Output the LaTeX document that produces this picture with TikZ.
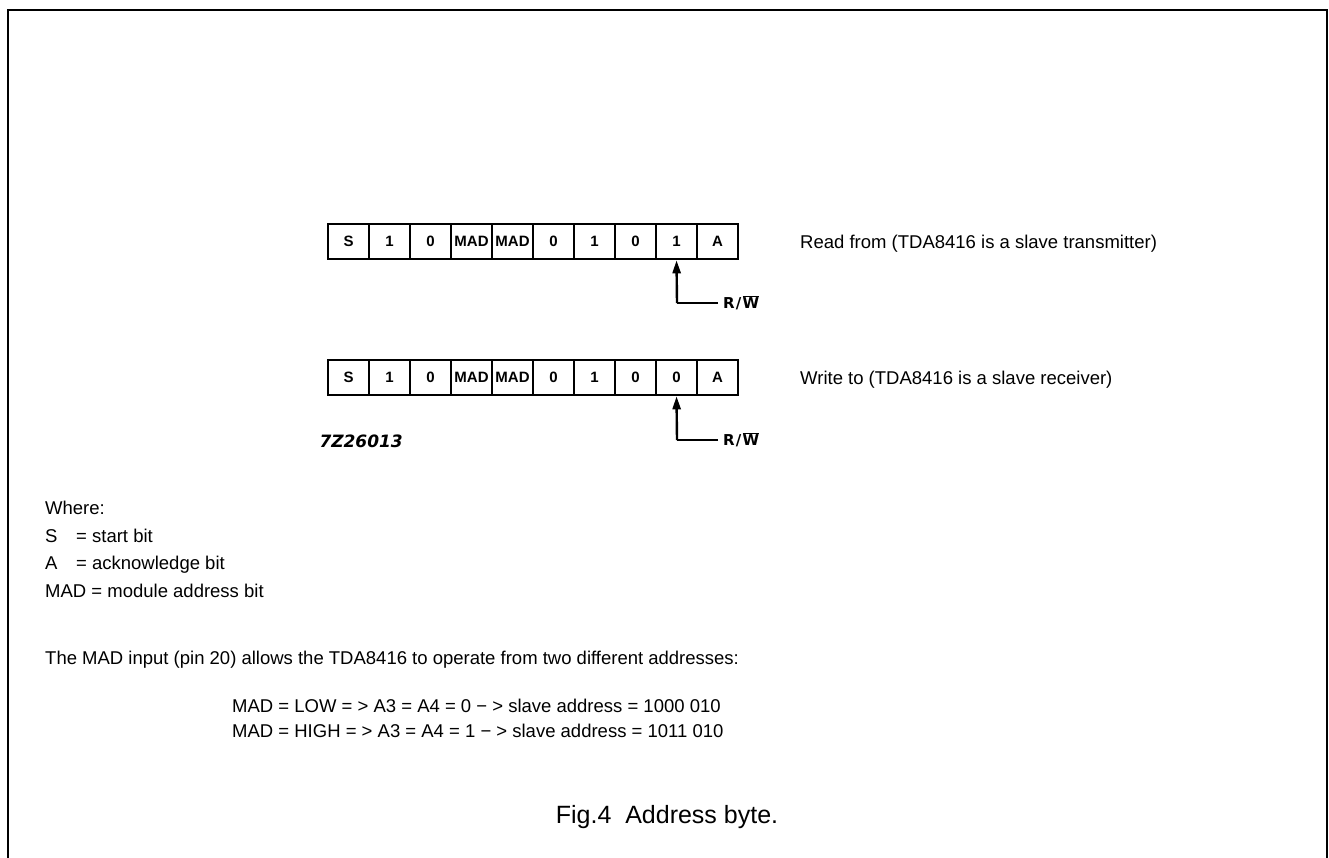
\documentclass[tikz,border=0pt]{standalone}
\usepackage{fontspec}
\setmainfont{Liberation Sans}
\newfontfamily\dvb{DejaVu Sans}
\usetikzlibrary{arrows.meta}
\tikzset{
  frame/.style={line width=2pt, line cap=rect},
  bitbox/.style={draw, line width=2.6pt, minimum width=41pt, minimum height=35pt, inner sep=0pt, font=\fontsize{15}{15}\selectfont\bfseries},
  ptr/.style={line width=2.4pt, -{Triangle[length=13pt,width=8pt]}},
  lead/.style={line width=2.4pt},
  body/.style={anchor=base west, inner sep=0pt, font=\fontsize{18.5}{18.5}\selectfont},
  rw/.style={anchor=west, inner sep=0pt, font=\fontsize{15}{15}\selectfont\dvb\bfseries},
}
\newcommand{\rwlabel}{R\hspace{1.2pt}/\hspace{1.2pt}$\overline{\hbox{\dvb\bfseries W}}$}
\begin{document}
\begin{tikzpicture}[x=1pt, y=-1pt]
\useasboundingbox (0,0) rectangle (1329,857);
\draw[frame] (8,857) -- (8,10) -- (1327,10) -- (1327,857);

% row 1
\foreach \t [count=\i] in {S,1,0,MAD,MAD,0,1,0,1,A} {
  \node[bitbox] (r\i) at ({328+41*(\i-0.5)},241.5) {\t};
}
\coordinate (c1) at (677,303);
\coordinate (e1) at (718,303);
\draw[lead] (e1) -- (c1);
\draw[ptr] (c1) -- (r9.south);
\node[rw] (rw1) at (723,303) {\rwlabel};
\node[body] (t1) at (800,248) {Read from (TDA8416 is a slave transmitter)};

% row 2
\foreach \t [count=\i] in {S,1,0,MAD,MAD,0,1,0,0,A} {
  \node[bitbox] (w\i) at ({328+41*(\i-0.5)},377.5) {\t};
}
\coordinate (c2) at (677,440);
\coordinate (e2) at (718,440);
\draw[lead] (e2) -- (c2);
\draw[ptr] (c2) -- (w9.south);
\node[rw] (rw2) at (723,440) {\rwlabel};
\node[body] (t2) at (800,384) {Write to (TDA8416 is a slave receiver)};

\node[anchor=east, inner sep=0pt, font=\fontsize{17}{17}\selectfont\dvb\bfseries\itshape] (code) at (403,441) {7Z26013};

% legend
\node[body] (where) at (45,514) {Where:};
\node[body] (ls) at (45,542) {S};
\node[body] (lsd) at (76,542) {= start bit};
\node[body] (la) at (45,569) {A};
\node[body] (lad) at (76,569) {= acknowledge bit};
\node[body] (lm) at (45,597) {MAD = module address bit};

\node[body] (p1) at (45,664) {The MAD input (pin 20) allows the TDA8416 to operate from two different addresses:};
\node[body] (p2) at (232,712) {MAD = LOW = > A3 = A4 = 0 − > slave address = 1000 010};
\node[body] (p3) at (232,737) {MAD = HIGH = > A3 = A4 = 1 − > slave address = 1011 010};

\node[anchor=base, inner sep=0pt, font=\fontsize{25}{25}\selectfont] (cap) at (667,823) {Fig.4\ \ Address byte.};
\end{tikzpicture}
\end{document}
